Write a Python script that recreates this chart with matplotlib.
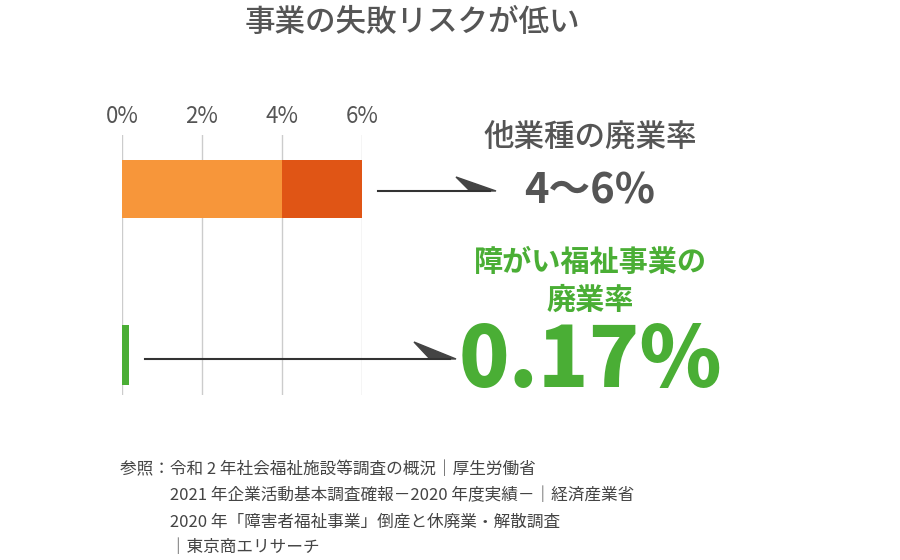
import matplotlib.pyplot as plt
from matplotlib.patches import Polygon

plt.rcParams["font.family"] = "Noto Sans CJK JP"

ticks = [0, 2, 4, 6]
tick_labels = ["0%", "2%", "4%", "6%"]
other_low = 4
other_high = 6
welfare = 0.17

fig = plt.figure(figsize=(9, 5.6), dpi=100)
ax = fig.add_axes([122/900, 1-395/560, 240/900, 260/560])
ax.set_xlim(0, 6)
ax.set_ylim(395, 135)
for t in ticks:
    ax.axvline(t, color="#cccccc", lw=1, zorder=0)
ax.barh(189, other_low, height=58, color="#F7963A", zorder=2)
ax.barh(189, other_high - other_low, left=other_low, height=58, color="#E05515", zorder=2)
ax.barh(355, welfare, height=60, color="#4AAE35", zorder=2)
ax.set_xticks(ticks)
ax.set_xticklabels(tick_labels, fontsize=16, color="#555555")
ax.xaxis.tick_top()
ax.tick_params(length=0, pad=5)
ax.set_yticks([])
for s in ax.spines.values():
    s.set_visible(False)

ov = fig.add_axes([0, 0, 1, 1])
ov.set_xlim(0, 900)
ov.set_ylim(560, 0)
ov.axis("off")
ov.patch.set_alpha(0)

# arrows
ov.plot([378, 490], [191, 191], color="#333333", lw=1.5)
ov.add_patch(Polygon([[456, 177], [496, 191], [470, 191]], color="#444444"))
ov.plot([145, 450], [359, 359], color="#333333", lw=1.5)
ov.add_patch(Polygon([[414, 342], [456, 359], [430, 359]], color="#444444"))

gray = "#555555"
green = "#4AAE35"
ov.text(412, 22, "事業の失敗リスクが低い", fontsize=22, color=gray, ha="center", va="center", weight="medium")
ov.text(590, 137, "他業種の廃業率", fontsize=22, color=gray, ha="center", va="center", weight="medium")
ov.text(590, 192, "4〜6%", fontsize=30, color=gray, ha="center", va="center", weight="bold")
ov.text(590, 262, "障がい福祉事業の", fontsize=21, color=green, ha="center", va="center", weight="bold")
ov.text(590, 300, "廃業率", fontsize=21, color=green, ha="center", va="center", weight="bold")
ov.text(590, 362, "0.17%", fontsize=60, color=green, ha="center", va="center", weight="black")

notes = ["参照：令和 2 年社会福祉施設等調査の概況｜厚生労働省",
         "　　　2021 年企業活動基本調査確報－2020 年度実績－｜経済産業省",
         "　　　2020 年「障害者福祉事業」倒産と休廃業・解散調査",
         "　　　｜東京商エリサーチ"]
for i, n in enumerate(notes):
    ov.text(120, 470 + i*26, n, fontsize=12, color="#444444", ha="left", va="center")

fig.savefig("out.png", dpi=100)
